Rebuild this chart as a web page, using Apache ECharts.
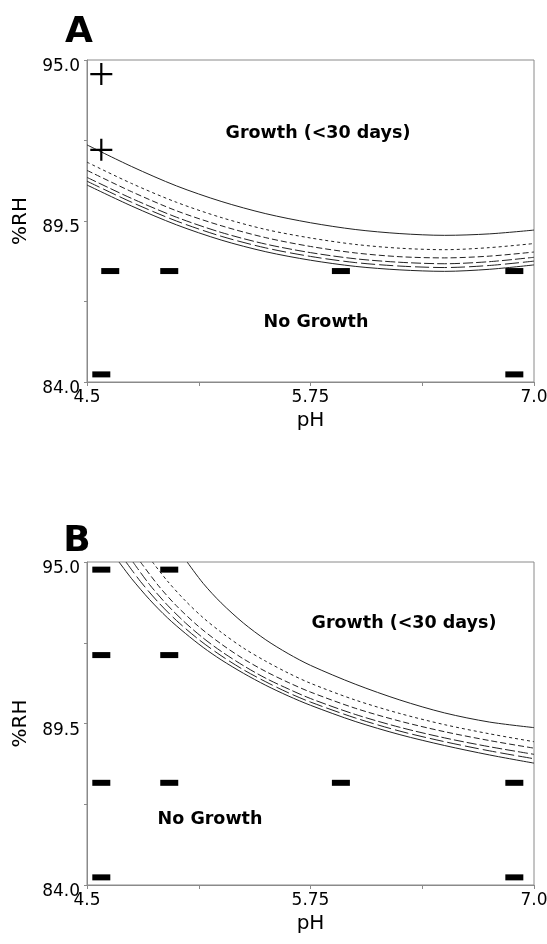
<!DOCTYPE html>
<html><head><meta charset="utf-8">
<script src="https://cdn.jsdelivr.net/npm/echarts@6/dist/echarts.min.js"></script>
<style>html,body{margin:0;padding:0;background:#fff}#c{width:547px;height:944px}</style>
</head><body><div id="c"></div><script>
// ---- Data ----
const xTickLabels = ['4.5', '5.75', '7.0'];
const yTickLabels = ['84.0', '89.5', '95.0'];

// Panel A curves (shared pH grid)
const phA = [4.5, 4.75, 5.0, 5.25, 5.5, 5.75, 6.0, 6.25, 6.5, 6.75, 7.0];
const rhA1 = [92.10, 91.36, 90.70, 90.17, 89.75, 89.44, 89.21, 89.07, 89.01, 89.06, 89.19];
const rhA2 = [91.51, 90.78, 90.14, 89.62, 89.21, 88.92, 88.70, 88.57, 88.52, 88.59, 88.73];
const rhA3 = [91.23, 90.50, 89.85, 89.34, 88.93, 88.63, 88.41, 88.28, 88.24, 88.30, 88.44];
const rhA4 = [90.99, 90.27, 89.63, 89.11, 88.71, 88.42, 88.21, 88.09, 88.04, 88.11, 88.26];
const rhA5 = [90.86, 90.14, 89.50, 88.98, 88.58, 88.29, 88.08, 87.96, 87.91, 87.98, 88.13];
const rhA6 = [90.73, 90.01, 89.37, 88.85, 88.45, 88.16, 87.95, 87.83, 87.78, 87.85, 88.00];

// Panel B curves
const phB1 = [5.06, 5.15, 5.25, 5.375, 5.5, 5.625, 5.75, 6.0, 6.25, 6.5, 6.75, 7.0];
const rhB1 = [95.00, 94.27, 93.61, 92.92, 92.35, 91.88, 91.48, 90.84, 90.30, 89.86, 89.55, 89.36];
const phB2 = [4.866, 4.95, 5.05, 5.15, 5.25, 5.375, 5.5, 5.625, 5.75, 6.0, 6.25, 6.5, 6.75, 7.0];
const rhB2 = [95.00, 94.35, 93.68, 93.10, 92.61, 92.07, 91.62, 91.22, 90.87, 90.30, 89.84, 89.46, 89.15, 88.88];
const phB3 = [4.799, 4.9, 5.0, 5.125, 5.25, 5.375, 5.5, 5.625, 5.75, 6.0, 6.25, 6.5, 6.75, 7.0];
const rhB3 = [95.00, 94.19, 93.51, 92.80, 92.21, 91.70, 91.27, 90.90, 90.57, 90.02, 89.58, 89.22, 88.92, 88.66];
const phB4 = [4.757, 4.85, 4.95, 5.05, 5.15, 5.25, 5.375, 5.5, 5.625, 5.75, 6.0, 6.25, 6.5, 6.75, 7.0];
const rhB4 = [95.00, 94.23, 93.53, 92.93, 92.41, 91.96, 91.47, 91.04, 90.68, 90.35, 89.81, 89.37, 89.01, 88.71, 88.45];
const phB5 = [4.718, 4.8, 4.9, 5.0, 5.125, 5.25, 5.375, 5.5, 5.625, 5.75, 6.0, 6.25, 6.5, 6.75, 7.0];
const rhB5 = [95.00, 94.33, 93.62, 93.01, 92.36, 91.81, 91.33, 90.92, 90.55, 90.23, 89.69, 89.24, 88.88, 88.57, 88.30];
const phB6 = [4.679, 4.75, 4.85, 4.95, 5.05, 5.15, 5.25, 5.375, 5.5, 5.625, 5.75, 6.0, 6.25, 6.5, 6.75, 7.0];
const rhB6 = [95.00, 94.43, 93.72, 93.10, 92.57, 92.09, 91.67, 91.21, 90.80, 90.44, 90.12, 89.57, 89.12, 88.75, 88.43, 88.15];

// Observations: growth (+) and no growth (-)
const growA_ph = [4.58, 4.58];
const growA_rh = [94.52, 91.93];
const noGrowA_ph = [4.63, 4.96, 5.92, 6.89, 4.58, 6.89];
const noGrowA_rh = [87.79, 87.79, 87.79, 87.79, 84.26, 84.26];
const noGrowB_ph = [4.58, 4.96, 4.58, 4.96, 4.58, 4.96, 5.92, 6.89, 4.58, 6.89];
const noGrowB_rh = [94.74, 94.74, 91.83, 91.83, 87.48, 87.48, 87.48, 87.48, 84.26, 84.26];

// ---- Build ----
const zip = (xs, ys) => xs.map((x, i) => [x, ys[i]]);
const FONT = '"DejaVu Sans", Verdana, sans-serif';
const axisColor = '#8a8a8a';
const lineColor = '#222';
const styles = [
  { type: 'solid' },
  { type: [3, 3] },
  { type: [6, 3] },
  { type: [10, 3] },
  { type: [14, 4] },
  { type: 'solid' }
];

function xAxis(gi) {
  return {
    type: 'value', gridIndex: gi, min: 4.5, max: 7.0, interval: 0.625,
    axisLine: { show: true, lineStyle: { color: axisColor, width: 1 } },
    axisTick: { show: true, length: 4, lineStyle: { color: axisColor } },
    splitLine: { show: false },
    axisLabel: {
      color: '#000', fontSize: 17, fontFamily: FONT, margin: 7,
      showMinLabel: true, showMaxLabel: true,
      formatter: v => { const i = xTickLabels.findIndex(t => Math.abs(parseFloat(t) - v) < 1e-6); return i >= 0 ? xTickLabels[i] : ''; }
    },
    name: 'pH', nameLocation: 'middle', nameGap: 29,
    nameTextStyle: { color: '#000', fontSize: 20, fontFamily: FONT }
  };
}
function yAxis(gi) {
  return {
    type: 'value', gridIndex: gi, min: 84, max: 95, interval: 2.75,
    axisLine: { show: true, lineStyle: { color: axisColor, width: 1 } },
    axisTick: { show: true, length: 3, lineStyle: { color: axisColor } },
    splitLine: { show: false },
    axisLabel: {
      color: '#000', fontSize: 17, fontFamily: FONT, margin: 7,
      verticalAlign: 'top', lineHeight: 14,
      showMinLabel: true, showMaxLabel: true,
      formatter: v => { const i = yTickLabels.findIndex(t => Math.abs(parseFloat(t) - v) < 1e-6); return i >= 0 ? yTickLabels[i] : ''; }
    },
    name: '%RH', nameLocation: 'middle', nameGap: 56,
    nameTextStyle: { color: '#000', fontSize: 20, fontFamily: FONT }
  };
}
function curve(gi, data, k) {
  return {
    type: 'line', xAxisIndex: gi, yAxisIndex: gi, data: data,
    showSymbol: false, symbol: 'none', smooth: 0.3, silent: true, clip: true,
    lineStyle: Object.assign({ color: lineColor, width: 1 }, styles[k]), z: 2
  };
}
const plusPath = 'path://M9,0L11,0L11,9L20,9L20,11L11,11L11,20L9,20L9,11L0,11L0,9L9,9Z';
const markStyle = { color: '#000', opacity: 1 };

const series = [];
[rhA1, rhA2, rhA3, rhA4, rhA5, rhA6].forEach((r, k) => series.push(curve(0, zip(phA, r), k)));
[[phB1, rhB1], [phB2, rhB2], [phB3, rhB3], [phB4, rhB4], [phB5, rhB5], [phB6, rhB6]]
  .forEach((p, k) => series.push(curve(1, zip(p[0], p[1]), k)));
series.push({ type: 'scatter', xAxisIndex: 0, yAxisIndex: 0, data: zip(growA_ph, growA_rh),
  symbol: plusPath, symbolSize: 22, itemStyle: markStyle, z: 5, clip: false, silent: true });
series.push({ type: 'scatter', xAxisIndex: 0, yAxisIndex: 0, data: zip(noGrowA_ph, noGrowA_rh),
  symbol: 'rect', symbolSize: [18, 6], itemStyle: markStyle, z: 5, clip: false, silent: true });
series.push({ type: 'scatter', xAxisIndex: 1, yAxisIndex: 1, data: zip(noGrowB_ph, noGrowB_rh),
  symbol: 'rect', symbolSize: [18, 6], itemStyle: markStyle, z: 5, clip: false, silent: true });

function txt(t, x, y, font) {
  return { type: 'text', x: x, y: y, silent: true,
    style: { text: t, font: font, fill: '#000', align: 'center', verticalAlign: 'middle',
      textAlign: 'center', textVerticalAlign: 'middle' } };
}
const annFont = 'bold 17.5px ' + FONT;
const panelFont = 'bold 36px ' + FONT;

const option = {
  animation: false,
  backgroundColor: '#fff',
  grid: [
    { left: 87, right: 13, top: 60, height: 322, show: true, borderColor: axisColor, borderWidth: 1, containLabel: false, outerBoundsMode: 'none' },
    { left: 87, right: 13, top: 562, height: 323, show: true, borderColor: axisColor, borderWidth: 1, containLabel: false, outerBoundsMode: 'none' }
  ],
  xAxis: [xAxis(0), xAxis(1)],
  yAxis: [yAxis(0), yAxis(1)],
  series: series,
  graphic: [
    txt('A', 79, 33, panelFont),
    txt('B', 77, 542, panelFont),
    txt('Growth (<30 days)', 318, 133, annFont),
    txt('No Growth', 316, 322, annFont),
    txt('Growth (<30 days)', 404, 623, annFont),
    txt('No Growth', 210, 819, annFont)
  ]
};
const chart = echarts.init(document.getElementById('c'), null, { renderer: 'canvas' });
chart.setOption(option);
</script></body></html>
